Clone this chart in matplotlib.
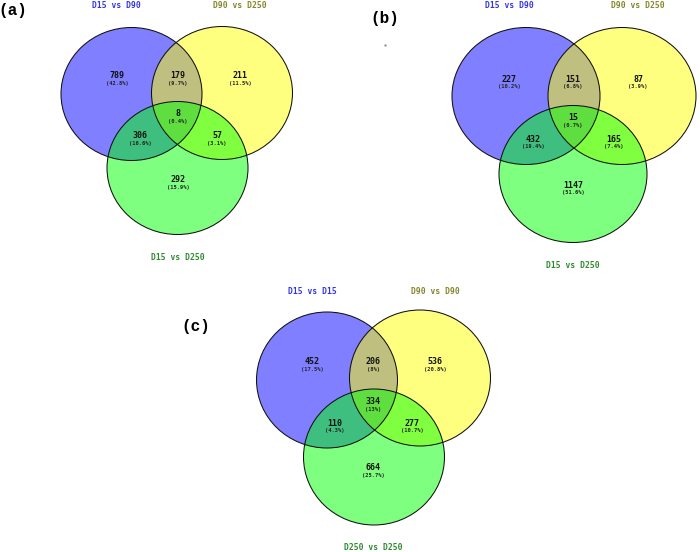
import matplotlib
matplotlib.use('Agg')

import matplotlib.pyplot as plt
from matplotlib.patches import Ellipse

# data: region counts in order
# [only A, A&B, only B, A&B&C, A&C, B&C, only C]
panel_tags = ['(a)', '(b)', '(c)']
set_names = [
    ['D15 vs D90', 'D90 vs D250', 'D15 vs D250'],
    ['D15 vs D90', 'D90 vs D250', 'D15 vs D250'],
    ['D15 vs D15', 'D90 vs D90', 'D250 vs D250'],
]
counts = [
    [789, 179, 211, 8, 306, 57, 292],
    [227, 151, 87, 15, 432, 165, 1147],
    [452, 206, 536, 334, 110, 277, 664],
]
percents = [
    ['42.8%', '9.7%', '11.5%', '0.4%', '16.6%', '3.1%', '15.9%'],
    ['10.2%', '6.8%', '3.9%', '0.7%', '19.4%', '7.4%', '51.6%'],
    ['17.5%', '8%', '20.8%', '13%', '4.3%', '10.7%', '25.7%'],
]

# layout (pixels): circle centres A, B, C, ellipse size, tag position, set-name positions
centres = [
    [(131.5, 94), (222, 93), (177.5, 168)],
    [(526, 96), (622, 96), (573, 174)],
    [(327, 380), (420, 378), (374, 457)],
]
sizes = [(141, 133), (148, 137), (141, 136)]
tag_pos = [(13, 11), (385, 19), (196, 327)]
name_pos = [
    [(116, 6), (240, 6), (178, 257)],
    [(509, 6), (638, 6), (573, 265)],
    [(312, 292), (435, 292), (373, 547)],
]
region_pos = [
    [(117, 76), (178, 76), (240, 76), (178, 114), (140, 136), (217, 136), (178, 180)],
    [(509, 79), (573, 79), (638, 79), (573, 118), (533, 139), (614, 139), (573, 185)],
    [(312, 362), (373, 362), (435, 362), (373, 402), (335, 423), (412, 423), (373, 468)],
]

fills = ['#0000ff', '#ffff00', '#00ff00']
name_cols = ['#3535e0', '#85852a', '#2e8a2e']
mono = 'DejaVu Sans Mono'

fig = plt.figure(figsize=(7, 5.52), dpi=100)
ax = fig.add_axes([0, 0, 1, 1])
ax.set_xlim(0, 700)
ax.set_ylim(552, 0)
ax.axis('off')

for p in range(3):
    w, h = sizes[p]
    for k in range(3):
        ax.add_patch(Ellipse(centres[p][k], w, h, facecolor=fills[k],
                             alpha=0.5, edgecolor='none', zorder=1 + k))
    for k in range(3):
        ax.add_patch(Ellipse(centres[p][k], w, h, fill=False,
                             edgecolor='#111111', lw=0.75, zorder=5))
    for k in range(3):
        ax.text(name_pos[p][k][0], name_pos[p][k][1], set_names[p][k],
                color=name_cols[k], family=mono, fontweight='bold',
                fontsize=5.8, ha='center', va='center')
    for r in range(7):
        x, y = region_pos[p][r]
        ax.text(x, y, str(counts[p][r]), family=mono, fontweight='bold',
                fontsize=6, ha='center', va='center', color='#111111', zorder=6)
        ax.text(x, y + 7.5, '(' + percents[p][r] + ')', family=mono,
                fontweight='bold', fontsize=3.9, ha='center', va='center',
                color='#222222', zorder=6)
    ax.text(tag_pos[p][0], tag_pos[p][1], panel_tags[p], family='Liberation Mono',
            fontweight='bold', fontsize=11.5, ha='center', va='center')

# stray dot in panel (b)
ax.plot([385], [45], marker='.', ms=1.5, color='#999999')

fig.savefig('out.png', dpi=100)
